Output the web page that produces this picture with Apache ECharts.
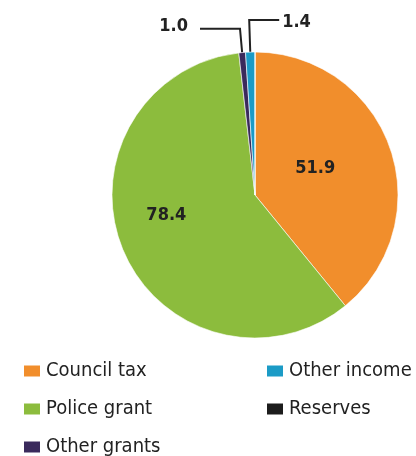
<!DOCTYPE html>
<html><head><meta charset="utf-8">
<script src="https://cdn.jsdelivr.net/npm/echarts@6/dist/echarts.min.js"></script>
<style>html,body{margin:0;padding:0;background:#fff}#c{width:416px;height:456px}</style>
</head><body><div id="c"></div>
<script>
const categories = ['Council tax', 'Police grant', 'Other grants', 'Other income', 'Reserves'];
const values = [51.9, 78.4, 1.0, 1.4, 0];
const colors = ['#F18E2C', '#8CBC3D', '#3A2A5C', '#1B9BC6', '#1C1C1C'];

const FONT = "'DejaVu Sans Condensed','Liberation Sans Narrow','Liberation Sans',sans-serif";

const itemLabel = {
  'Council tax': { label: { position: 'inside', offset: [-10, -2] } },
  'Police grant': { label: { position: 'inside', offset: [-20, -9] } },
  'Other grants': { label: { position: 'outside', distanceToLabelLine: 12, offset: [0, -2] }, labelLine: { length: 24, length2: 40 } },
  'Other income': { label: { position: 'outside', distanceToLabelLine: 3 }, labelLine: { length: 32, length2: 30 } }
};

const data = categories.map((name, i) => {
  const d = { name, value: values[i], itemStyle: { color: colors[i] } };
  const extra = itemLabel[name];
  if (values[i] === 0) {
    d.label = { show: false };
    d.labelLine = { show: false };
  } else if (extra) {
    Object.assign(d, extra);
  }
  return d;
});

const chart = echarts.init(document.getElementById('c'), null, { renderer: 'canvas' });
const legendText = { fontFamily: FONT, fontSize: 20, color: '#222', lineHeight: 18 };
// legend grid: column 0 holds first three, column 1 holds the rest
const legends = categories.map((name, i) => {
  const col = i < 3 ? 0 : 1;
  const row = i < 3 ? i : i - 3;
  return {
    data: [name],
    orient: 'horizontal',
    left: col === 0 ? 22 : 265,
    top: 361 + row * 38,
    padding: 0,
    itemWidth: 18,
    itemHeight: 13,
    icon: 'rect',
    textStyle: legendText,
    selectedMode: false
  };
});

chart.setOption({
  animation: false,
  legend: legends,
  series: [{
    type: 'pie',
    center: [255, 195],
    radius: [0, 143],
    startAngle: 90,
    clockwise: true,
    avoidLabelOverlap: false,
    itemStyle: { borderColor: '#fff', borderWidth: 0.6 },
    label: {
      show: true,
      formatter: p => p.value.toFixed(1),
      fontFamily: FONT,
      fontWeight: 'bold',
      fontSize: 18,
      color: '#222'
    },
    labelLine: { show: true, lineStyle: { color: '#222', width: 2 }, smooth: false },
    emphasis: { disabled: true },
    labelLayout: function (params) {
      if (params.dataIndex === 3 && params.labelLinePoints) {
        const pts = params.labelLinePoints.map(p => [p[0], p[1]]);
        const p1 = pts[1], p2 = pts[2];
        const len = Math.abs(p2[0] - p1[0]);
        pts[2] = [p1[0] + len, p2[1]];
        return {
          labelLinePoints: pts,
          x: pts[2][0] + 3,
          y: pts[2][1] + 2,
          align: 'left',
          verticalAlign: 'middle'
        };
      }
      return {};
    },
    data
  }]
});
</script></body></html>
